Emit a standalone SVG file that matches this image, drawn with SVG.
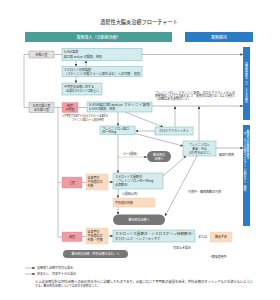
<svg xmlns="http://www.w3.org/2000/svg" width="280" height="300" viewBox="0 0 280 300">
<defs>
<marker id="ah" viewBox="0 0 6 6" refX="6" refY="3" markerWidth="2.6" markerHeight="2.6" markerUnits="userSpaceOnUse" orient="auto"><path d="M0,0 L6,3 L0,6 z" fill="#333"/></marker>
<style>
text{font-family:"Noto Sans CJK JP","Noto Sans",sans-serif;fill:#333;font-size:3px}
.t{font-size:5.2px;font-weight:500;fill:#444}
.h{font-size:4px;fill:#fff}
.c{text-anchor:middle}
.w{fill:#fff}
.gray{fill:#e0e0e0;stroke:#8a8a8a;stroke-width:0.4}
.blue{fill:#d4ecee;stroke:#5ea7b0;stroke-width:0.4}
.red{fill:#f29aa4;stroke:#e07a85;stroke-width:0.3}
.org{fill:#fbdcc0;stroke:#f0c49c;stroke-width:0.3}
.pill{fill:#777}
.bar{fill:#2a7cc4}
.cn{fill:none;stroke:#444;stroke-width:0.35}
.br{fill:none;stroke:#9a9a9a;stroke-width:0.6}
.v{writing-mode:vertical-rl;text-orientation:upright;fill:#fff;font-size:2.9px}
</style>
</defs>
<rect width="280" height="300" fill="#fff"/>
<text class="t c" x="139" y="24">潰瘍性大腸炎治療フローチャート</text>
<g id="hdr1"><rect x="25" y="32" width="147" height="10" fill="#4a9e98"/><text class="h c" x="98.5" y="38.5">寛解導入（活動期治療）</text></g>
<g id="hdr2"><rect x="185" y="32" width="68" height="10" fill="#2a7cc4"/><text class="h c" x="219" y="38.5">寛解維持</text></g>

<g id="connectors">
<path class="br" d="M29,54.5 H24 V107.5 H29"/>
<path class="br" d="M58,107.5 V237 M58,182.5 H62 M58,237 H62"/>
<path class="br" d="M54,54.5 H62 M54,107.5 H62"/>
<path class="cn" d="M78,107.5 H87"/>
<path class="cn" d="M142,54.5 H243" marker-end="url(#ah)"/>
<path class="cn" d="M76,60.5 V66.5" marker-end="url(#ah)"/>
<path class="cn" d="M86,66.5 V60.5" marker-end="url(#ah)"/>
<path class="cn" d="M76,76.5 V83" marker-end="url(#ah)"/>
<path class="cn" d="M152,106 H243" marker-end="url(#ah)"/>
<path class="cn" d="M118,112 V126" marker-end="url(#ah)"/>
<path class="cn" d="M125,112 L163,127" marker-end="url(#ah)"/>
<path class="cn" d="M155,131 H135.5" marker-end="url(#ah)"/>
<path class="cn" d="M175,127 V106.3" marker-end="url(#ah)"/>
<path class="cn" d="M199,141 V106.3" marker-end="url(#ah)"/>
<path class="cn" d="M135,133.5 L183,146" marker-end="url(#ah)"/>
<path class="cn" d="M118,134.5 V173" marker-end="url(#ah)"/>
<path class="cn" d="M118,157 H147" stroke-dasharray="0.8 0.6" marker-end="url(#ah)"/>
<path class="cn" d="M216,148 H243" marker-end="url(#ah)"/>
<path class="cn" d="M82,182.5 H86 M82,236.5 H86"/>
<path class="cn" d="M108,182 H113" marker-end="url(#ah)"/>
<path class="cn" d="M108,236 H113" marker-end="url(#ah)"/>
<path class="cn" d="M118,189 V198" marker-end="url(#ah)"/>
<path class="cn" d="M118,207 V214.5" marker-end="url(#ah)"/>
<path class="cn" d="M163,176 L186,156" marker-end="url(#ah)"/>
<path class="cn" d="M197,156 L165,216" marker-end="url(#ah)"/>
<path class="cn" d="M25,268 H35" marker-end="url(#ah)"/>
<path class="cn" d="M25,274 H35" marker-end="url(#ah)"/>
</g>

<g id="n_rectal"><rect class="gray" x="29" y="51" width="25" height="7"/><text class="c" x="41.5" y="55.7">直腸炎型</text></g>
<g id="n_r1"><rect class="blue" x="62" y="48.5" width="80" height="12"/><text x="64" y="53.3">5-ASA製剤</text><text x="64" y="58">経口剤 and/or 注腸剤，坐剤</text></g>
<g id="n_r2"><rect class="blue" x="62" y="66.5" width="80" height="10"/><text x="64" y="70.6">ステロイド局所製剤</text><text x="64" y="74.8" textLength="76" lengthAdjust="spacingAndGlyphs">（ブデソニド注腸フォーム剤を含む）への切替・追加</text></g>
<g id="n_r3"><rect class="blue" x="62" y="83" width="40" height="12"/><text x="64" y="87.8">中等症の治療に準ずる</text><text x="64" y="92.3" textLength="36.5" lengthAdjust="spacingAndGlyphs">（全身のステロイドは慎重に）</text></g>

<g id="n_left"><rect class="gray" x="29" y="102.5" width="25" height="10"/><text class="c" x="41.5" y="106.7">左側大腸炎型</text><text class="c" x="41.5" y="110.8">全大腸炎型</text></g>
<g id="n_mild"><rect class="red" x="62" y="102.5" width="16" height="10"/><text class="c" x="70" y="106.7">軽症</text><text class="c" x="70" y="110.8">中等症</text></g>
<g id="n_5asa"><rect class="blue" x="87" y="102" width="65" height="10"/><text x="89" y="106.2" textLength="61" lengthAdjust="spacingAndGlyphs">5-ASA経口剤 and/or ブデソニド錠剤</text><text x="89" y="110.4">5-ASA注腸剤，坐剤</text></g>
<text x="62" y="117" font-size="2.4" textLength="46" lengthAdjust="spacingAndGlyphs">※中等症で効果不十分ならステロイド全身投与</text>
<text x="72" y="120.5" font-size="2.4" textLength="32" lengthAdjust="spacingAndGlyphs">ブデソニド注腸フォーム剤の併用可</text>
<text x="155" y="93.5" font-size="2.4" textLength="80" lengthAdjust="spacingAndGlyphs">プレドニゾロン，ブデソニド錠剤，カロテグラストメチルの</text>
<text x="155" y="96.8" font-size="2.4" textLength="80" lengthAdjust="spacingAndGlyphs">使用期間については注意すること（長期投与は避ける）および漫然と</text>
<text x="155" y="100.1" font-size="2.4">（詳細は本文参照のこと）</text>

<g id="n_pred"><rect class="blue" x="100" y="126" width="35" height="8.5"/><text x="102" y="129.6">プレドニゾロン経口</text><text x="102" y="133.2">30～40mg</text></g>
<g id="n_caro"><rect class="blue" x="155" y="127" width="38" height="8"/><text class="c" x="174" y="132.2">カロテグラストメチル</text></g>
<text x="121" y="155.2">（1～2週間）</text>
<g id="n_pill1"><rect class="pill" x="147" y="151" width="24" height="11" rx="5.5"/><text class="c w" x="159" y="155.8">難治例の</text><text class="c w" x="159" y="159.6">治療へ</text></g>
<g id="n_taper"><rect class="blue" x="183" y="141" width="33" height="15"/><text class="c" x="199.5" y="145.5">プレドニゾロン</text><text class="c" x="199.5" y="149.5">漸減・中止</text><text class="c" x="199.5" y="153.5">（3か月をめどに）</text></g>
<text x="219" y="155.5">頻回再燃例</text>
<text x="188" y="192.5">再燃中・離脱困難の再燃</text>

<g id="n_severe"><rect class="red" x="62" y="177" width="20" height="11"/><text class="c" x="72" y="183.5">重症</text></g>
<g id="n_sev_mgmt"><rect class="org" x="86" y="174" width="22" height="16"/><text x="87.5" y="178.5">全身管理</text><text x="87.5" y="182.5">手術適応の</text><text x="87.5" y="186.5">判断</text></g>
<g id="n_sev_ster"><rect class="blue" x="113" y="173" width="50" height="16"/><text x="115" y="177.5">ステロイド大量静注</text><text x="115" y="181.5">（プレドニゾロン40～80mg</text><text x="115" y="185.5">点滴静注）</text></g>
<text x="120" y="194.5">（1週間以内）</text>
<g id="n_surg_judge"><rect class="org" x="113" y="198" width="42" height="9"/><text x="115" y="203.6">手術適応判断</text></g>
<g id="n_pill2"><rect class="pill" x="113" y="214.5" width="52" height="10.5" rx="5.25"/><text class="c w" x="139" y="220.8">難治例の治療へ</text></g>

<g id="n_fulm"><rect class="red" x="62" y="232" width="20" height="9.5"/><text class="c" x="72" y="237.8">劇症</text></g>
<g id="n_ful_mgmt"><rect class="org" x="86" y="228" width="22" height="16"/><text x="87.5" y="232.5">全身管理</text><text x="87.5" y="236.5">手術適応の</text><text x="87.5" y="240.5">判断・連携</text></g>
<g id="n_ful_tx"><rect class="blue" x="113" y="230" width="82" height="12"/><text x="115" y="234.8" textLength="78" lengthAdjust="spacingAndGlyphs">ステロイド大量静注・シクロスポリン持続静注*</text><text x="115" y="239.5">タクロリムス・インフリキシマブ</text></g>
<text x="198" y="237.5">または</text>
<g id="n_emerg"><rect class="org" x="210" y="232" width="22" height="10"/><text class="c" x="221" y="238">緊急手術</text></g>
<text x="173" y="248.5">効果なき場合</text>
<text x="210" y="258">*保険適用外</text>
<g id="n_pill3"><rect class="pill" x="63" y="250" width="65" height="8" rx="4"/><text class="c w" x="95.5" y="255.2">難治例の治療（外科治療を含む）へ</text></g>

<g id="bar1"><rect class="bar" x="243" y="47" width="7" height="73"/><text class="v" x="246.5" y="62">寛解維持療法（5-ASA製剤）</text></g>
<g id="bar2"><rect class="bar" x="243" y="125" width="7" height="101"/><text class="v" x="248" y="130">難治例の寛解維持療法</text><text class="v" x="245" y="130">（5-ASA製剤＋チオプリン製剤など）継続</text></g>

<text x="37" y="269">寛解導入治療が有効な場合</text>
<text x="37" y="275">改善なし・効果不十分な場合</text>
<text x="35" y="282.5" font-size="2.6" textLength="218" lengthAdjust="spacingAndGlyphs">※上記治療指針は内科治療への反応性を中心に記載したものであり，必要に応じて専門医の意見を聞き，外科治療のタイミングなどを誤らないように</text>
<text x="35" y="287" font-size="2.6" textLength="65" lengthAdjust="spacingAndGlyphs">する。難治例の治療については本文を参照のこと。</text>
</svg>
